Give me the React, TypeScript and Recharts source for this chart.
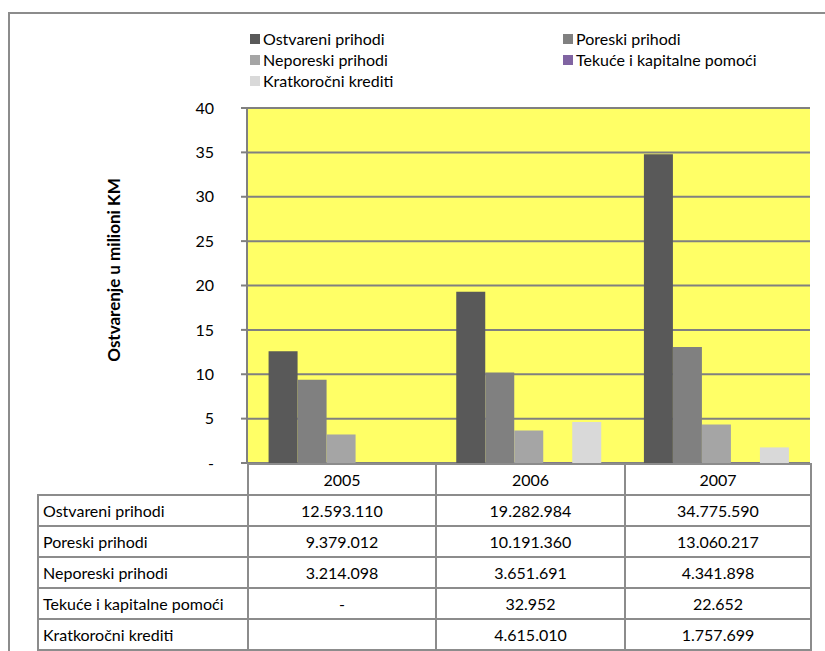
import { BarChart, Bar, XAxis, YAxis, CartesianGrid } from "recharts";

const years = ["2005", "2006", "2007"];
const seriesNames = [
  "Ostvareni prihodi",
  "Poreski prihodi",
  "Neporeski prihodi",
  "Tekuće i kapitalne pomoći",
  "Kratkoročni krediti",
];
const ostvareni = [12593110, 19282984, 34775590];
const poreski = [9379012, 10191360, 13060217];
const neporeski = [3214098, 3651691, 4341898];
const tekuce = [0, 32952, 22652];
const kratkorocni: (number | null)[] = [null, 4615010, 1757699];
const yTicks = [0, 5, 10, 15, 20, 25, 30, 35, 40];

const COLORS = ["#595959", "#808080", "#a5a5a5", "#8064a2", "#d9d9d9"];
const FONT = "Lato, 'DejaVu Sans', sans-serif";
const LINE = "#8c8c8c";

const allSeries = [ostvareni, poreski, neporeski, tekuce, kratkorocni];
const keys = ["s0", "s1", "s2", "s3", "s4"];

const chartData = years.map((y, i) => {
  const row: Record<string, any> = { year: y };
  allSeries.forEach((s, k) => {
    row[keys[k]] = s[i] == null ? null : (s[i] as number) / 1e6;
  });
  return row;
});

const fmt = (v: number | null) => {
  if (v == null) return "";
  if (v === 0) return "-";
  return String(v).replace(/\B(?=(\d{3})+(?!\d))/g, ".");
};

const colW = [210, 188, 189, 186];

export default function App() {
  const legendPos = [
    { x: 250, y: 29 },
    { x: 563, y: 29 },
    { x: 250, y: 50 },
    { x: 563, y: 50 },
    { x: 250, y: 71 },
  ];
  return (
    <div style={{ position: "absolute", left: 0, top: 0, width: 825, height: 651, background: "#fff", fontFamily: FONT, overflow: "hidden" }}>
      {/* frame */}
      <div style={{ position: "absolute", left: 8, top: 12, width: 830, height: 650, borderTop: `2px solid ${LINE}`, borderLeft: `2px solid ${LINE}` }} />

      {/* legend */}
      {seriesNames.map((n, i) => (
        <div key={n} style={{ position: "absolute", left: legendPos[i].x, top: legendPos[i].y, height: 19, display: "flex", alignItems: "center", fontSize: 16, color: "#000", whiteSpace: "nowrap" }}>
          <span style={{ width: 10, height: 10, background: COLORS[i], marginRight: 3, display: "inline-block" }} />
          {n}
        </div>
      ))}

      {/* y axis title */}
      <div style={{ position: "absolute", left: 113, top: 270, transform: "translate(-50%, -50%) rotate(-90deg)", fontSize: 17, fontWeight: 700, whiteSpace: "nowrap", color: "#000" }}>
        Ostvarenje u milioni KM
      </div>

      <div style={{ position: "absolute", left: 0, top: 0 }}>
        <BarChart
          width={825}
          height={651}
          data={chartData}
          margin={{ top: 108, right: 15, bottom: 188, left: 187 }}
          barCategoryGap="11.5%"
          barGap={0}
        >
          <CartesianGrid vertical={false} stroke="#808080" strokeWidth={2} fill="#ffff66" fillOpacity={1} />
          <XAxis dataKey="year" hide />
          <YAxis
            width={60}
            domain={[0, 40]}
            ticks={yTicks}
            interval={0}
            tickFormatter={(v) => (v === 0 ? "-" : String(v))}
            axisLine={{ stroke: "#808080", strokeWidth: 2 }}
            tickLine={{ stroke: "#808080", strokeWidth: 2 }}
            tickSize={6}
            tickMargin={27}
            tick={{ fill: "#000", fontSize: 16, fontFamily: FONT }}
          />
          {keys.map((k, i) => (
            <Bar key={k} dataKey={k} fill={COLORS[i]} isAnimationActive={false} />
          ))}
        </BarChart>
      </div>

      {/* data table */}
      <table style={{ position: "absolute", left: 37, top: 463, borderCollapse: "collapse", tableLayout: "fixed", fontSize: 16, fontFamily: FONT, color: "#000" }}>
        <colgroup>
          {colW.map((w, i) => <col key={i} style={{ width: w }} />)}
        </colgroup>
        <tbody>
          <tr style={{ height: 31 }}>
            <td style={{ border: "none" }} />
            {years.map((y) => (
              <td key={y} style={{ border: `2px solid ${LINE}`, textAlign: "center", padding: 0 }}>{y}</td>
            ))}
          </tr>
          {seriesNames.map((n, k) => (
            <tr key={n} style={{ height: 31 }}>
              <td style={{ border: `2px solid ${LINE}`, paddingLeft: 4, whiteSpace: "nowrap" }}>{n}</td>
              {years.map((y, i) => (
                <td key={y} style={{ border: `2px solid ${LINE}`, textAlign: "center", padding: 0 }}>{fmt(allSeries[k][i])}</td>
              ))}
            </tr>
          ))}
        </tbody>
      </table>
    </div>
  );
}
